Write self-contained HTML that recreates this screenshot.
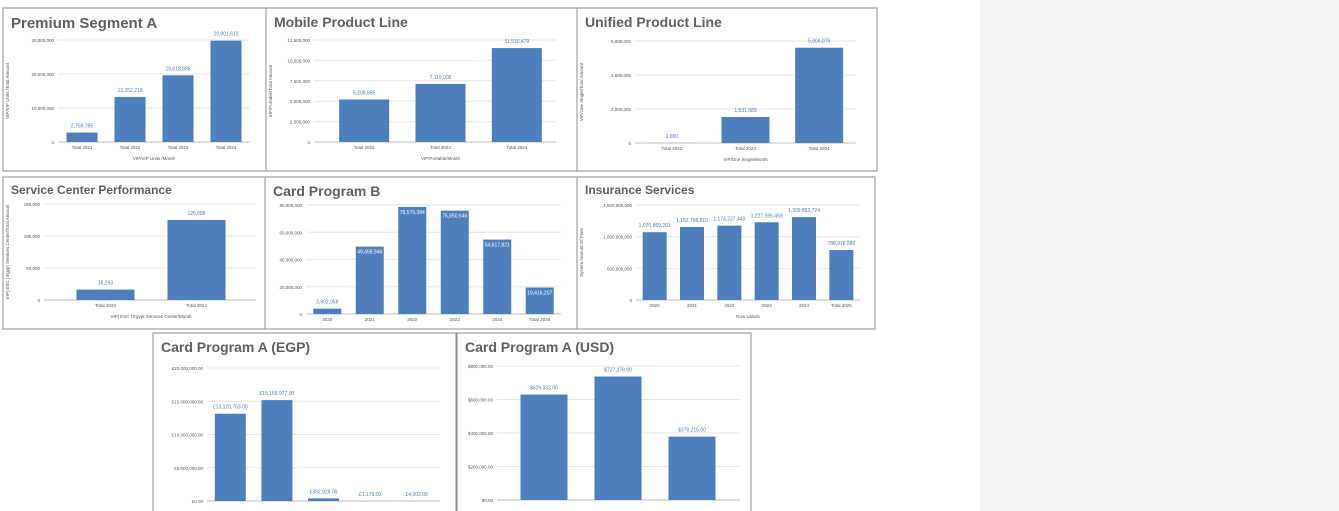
<!DOCTYPE html>
<html><head><meta charset="utf-8">
<style>
html,body{margin:0;padding:0;background:#fff;width:1339px;height:511px;overflow:hidden;font-family:"Liberation Sans",sans-serif}
#side{position:absolute;left:980px;top:0;width:359px;height:511px;background:#f4f4f4}
svg{position:absolute;left:0;top:0}
</style></head><body>
<div id="side"></div>
<svg id="s" width="1339" height="511"></svg>
<script>
const c1Cats=["Total 2021","Total 2022","Total 2023","Total 2024"];
const c1Vals=[2769785,13252219,19618886,29801613];
const c1Ticks=[0,10000000,20000000,30000000];
const c2Cats=["Total 2022","Total 2023","Total 2024"];
const c2Vals=[5208685,7119005,11510479];
const c2Ticks=[0,2500000,5000000,7500000,10000000,12500000];
const c3Cats=["Total 2022","Total 2023","Total 2024"];
const c3Vals=[1650,1531583,5604079];
const c3Ticks=[0,2000000,4000000,6000000];
const c4Cats=["Total 2023","Total 2024"];
const c4Vals=[16293,125086];
const c4Ticks=[0,50000,100000,150000];
const c5Cats=["2020","2021","2022","2023","2024","Total 2025"];
const c5Vals=[3902058,49458946,78579384,75850646,54617821,19416207];
const c5Ticks=[0,20000000,40000000,60000000,80000000];
const c6Cats=["2020","2021","2022","2023","2024","Total 2025"];
const c6Vals=[1070869201,1152798810,1174227449,1227595459,1309883724,788978580];
const c6Ticks=[0,500000000,1000000000,1500000000];
const c7Cats=["a","b","c","d","e"];
const c7Vals=[13120763,15169977,392928,1179,4002];
const c7Ticks=[0,5000000,10000000,15000000,20000000];
const c8Cats=["a","b","c"];
const c8Vals=[629332,737276,378215];
const c8Ticks=[0,200000,400000,600000,800000];

const S=document.getElementById('s');
const NS='http://www.w3.org/2000/svg';
function el(t,a,txt){const e=document.createElementNS(NS,t);for(const k in a)e.setAttribute(k,a[k]);if(txt!==undefined)e.textContent=txt;S.appendChild(e);return e;}
const fmt=v=>Math.round(v).toLocaleString('en-US');
const egp=v=>'£'+v.toLocaleString('en-US',{minimumFractionDigits:2,maximumFractionDigits:2});
const usd=v=>'$'+v.toLocaleString('en-US',{minimumFractionDigits:2,maximumFractionDigits:2});

function chart(o){
  const r=el('rect',{x:o.px,y:o.py,width:o.pw,height:o.ph,fill:'#fff',stroke:'#8c8c8c','stroke-width':1});
  
  
  const t=el('text',{x:o.px+8,y:o.py+o.tsz+5,'font-size':o.tsz,'font-weight':'bold',fill:'#606060'},o.title);
  
  
  const max=o.ticks[o.ticks.length-1];
  const Y=v=>o.y0-(o.y0-o.yt)*v/max;
  const gA=o.gA||o.gx0, gB=o.gB||o.gx1;
  o.ticks.forEach(tv=>{
    const gl=el('line',{x1:gA,x2:gB,y1:Y(tv),y2:Y(tv),stroke:tv===0?'#bfbfbf':'#e6e6e6','stroke-width':1});
    
    
    const tl=el('text',{x:gA-4,y:Y(tv)+2,'font-size':4.5,fill:'#555','text-anchor':'end'},o.tf(tv));
    
    
  });
  const n=o.cats.length, step=(o.gx1-o.gx0)/n;
  o.vals.forEach((v,i)=>{
    const cx=o.gx0+step*(i+0.5);
    const b=el('rect',{x:cx-o.bw/2,y:Y(v),width:o.bw,height:o.y0-Y(v),fill:'#4e7ebc'});
    
    
    const inside=o.inside&&(o.y0-Y(v))>15;
    const lb=el('text',{x:cx,y:inside?Y(v)+7:Y(v)-5,'font-size':o.lsz||5,fill:inside?'#fff':'#4e7ebc','text-anchor':'middle'},o.lf(v));
    
    
    if(o.showCats!==false){
      const cl=el('text',{x:cx,y:o.y0+7,'font-size':4.5,fill:'#555','text-anchor':'middle'},o.cats[i]);
      
      
    }
  });
  if(o.xt){const xt=el('text',{x:(o.gx0+o.gx1)/2,y:o.y0+18,'font-size':4.5,fill:'#555','text-anchor':'middle'},o.xt);
    
    }
  if(o.yt2){const yx=o.px+6,yy=(o.yt+o.y0)/2;
    const ya=el('text',{x:yx,y:yy,'font-size':4.5,fill:'#555','text-anchor':'middle',transform:`rotate(-90 ${yx} ${yy})`},o.yt2);
    
    }
}
chart({name:'premium-segment-a',title:'Premium Segment A',tsz:15,px:3,py:8,pw:263,ph:163,gx0:58,gx1:250,y0:142,yt:40,bw:31,cats:c1Cats,vals:c1Vals,ticks:c1Ticks,tf:fmt,lf:fmt,xt:'VIP/VIP Units          /Month',yt2:'VIP/VIP Units        /Total Amount'});
chart({name:'mobile-product-line',title:'Mobile Product Line',tsz:14,px:266,py:8,pw:311,ph:163,gx0:326,gx1:555,gA:314,gB:556,y0:142,yt:40,bw:50,cats:c2Cats,vals:c2Vals,ticks:c2Ticks,tf:fmt,lf:fmt,xt:'VIP/Portable/Month',yt2:'VIP/Portable/Total Amount'});
chart({name:'unified-product-line',title:'Unified Product Line',tsz:14,px:577,py:8,pw:300,ph:163,gx0:635,gx1:856,y0:143,yt:41,bw:48,cats:c3Cats,vals:c3Vals,ticks:c3Ticks,tf:fmt,lf:fmt,xt:'VIP/One Single/Month',yt2:'VIP/One Single/Total Amount'});
chart({name:'service-center-performance',title:'Service Center Performance',tsz:12,px:3,py:177,pw:262,ph:152,gx0:60,gx1:242,gA:44,gB:256,y0:300,yt:204,bw:58,cats:c4Cats,vals:c4Vals,ticks:c4Ticks,tf:fmt,lf:fmt,xt:'VIP| ESC | Egypt Services Center/Month',yt2:'VIP| ESC | Egypt Services Center/Total Amount'});
chart({name:'card-program-b',title:'Card Program B',tsz:14,px:265,py:177,pw:312,ph:152,gx0:306,gx1:561,y0:314,yt:205,bw:28,cats:c5Cats,vals:c5Vals,ticks:c5Ticks,tf:fmt,lf:fmt,inside:true});
chart({name:'insurance-services',title:'Insurance Services',tsz:12,px:577,py:177,pw:298,ph:152,gx0:636,gx1:860,y0:300,yt:205,bw:24,cats:c6Cats,vals:c6Vals,ticks:c6Ticks,tf:fmt,lf:fmt,xt:'Row Labels',yt2:'System Amount Of Fees'});
chart({name:'card-program-a-egp',title:'Card Program A (EGP)',tsz:14,px:153,py:333,pw:303,ph:190,gx0:207,gx1:440,y0:501,yt:368,bw:31,cats:c7Cats,vals:c7Vals,ticks:c7Ticks,tf:egp,lf:egp,showCats:false});
chart({name:'card-program-a-usd',title:'Card Program A (USD)',tsz:14,px:457,py:333,pw:294,ph:190,gx0:507,gx1:729,gA:497,gB:740,y0:500,yt:366,bw:47,cats:c8Cats,vals:c8Vals,ticks:c8Ticks,tf:usd,lf:usd,showCats:false});
</script>
</body></html>
